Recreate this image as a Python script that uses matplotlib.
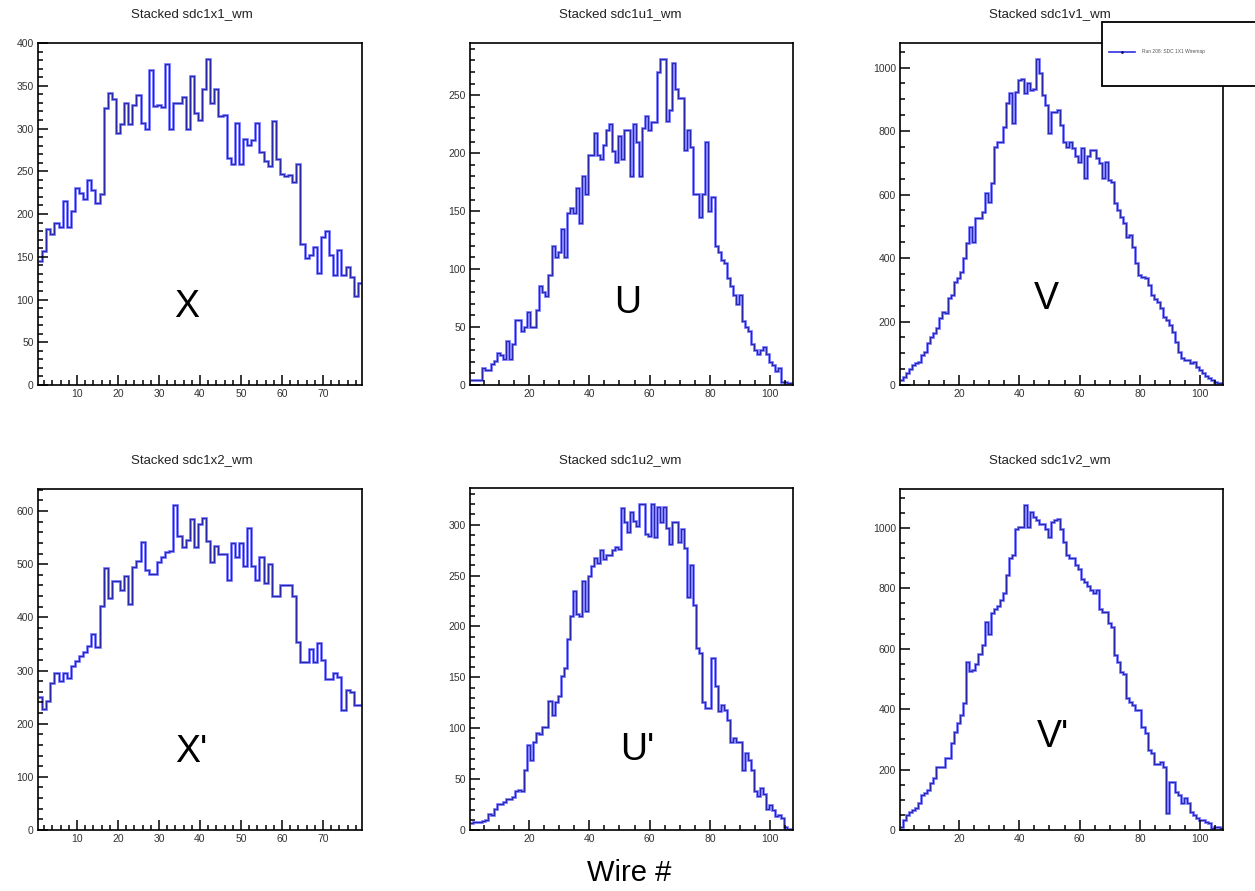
import numpy as np
import matplotlib.pyplot as plt
from matplotlib.patches import Rectangle
from matplotlib.lines import Line2D
from matplotlib.ticker import MultipleLocator

plt.rcParams['font.family'] = ['Liberation Sans', 'DejaVu Sans']

# wire-map counts per wire
x1 = [145, 157, 183, 177, 190, 185, 215, 185, 203, 230,
      225, 217, 240, 228, 213, 224, 324, 341, 335, 295,
      305, 330, 305, 328, 339, 306, 300, 369, 326, 328,
      325, 375, 299, 330, 330, 337, 299, 362, 318, 310,
      346, 381, 330, 346, 315, 316, 265, 258, 307, 259,
      288, 281, 287, 307, 273, 262, 256, 309, 264, 247,
      244, 246, 238, 258, 165, 148, 152, 161, 131, 173,
      180, 152, 129, 158, 129, 138, 126, 104, 119]
u1 = [4, 4, 4, 4, 15, 13, 13, 18, 21, 28,
      26, 22, 38, 22, 35, 56, 56, 47, 50, 63,
      50, 50, 65, 85, 80, 77, 95, 120, 110, 115,
      135, 110, 148, 153, 148, 170, 140, 180, 165, 198,
      198, 217, 198, 195, 207, 220, 225, 202, 192, 215,
      195, 220, 220, 180, 225, 210, 180, 222, 232, 220,
      227, 227, 270, 281, 281, 228, 237, 278, 255, 248,
      248, 203, 220, 205, 165, 165, 145, 165, 210, 150,
      162, 120, 115, 108, 105, 92, 85, 78, 70, 78,
      55, 50, 47, 35, 30, 27, 30, 33, 27, 20,
      17, 12, 15, 3, 3, 2, 2]
v1 = [16, 26, 37, 50, 63, 68, 74, 95, 105, 131,
      152, 163, 179, 210, 231, 226, 273, 284, 326, 336,
      357, 400, 446, 499, 452, 525, 525, 546, 604, 578,
      635, 751, 767, 767, 814, 888, 919, 825, 924, 961,
      963, 919, 951, 930, 932, 1026, 984, 914, 882, 793,
      861, 861, 866, 819, 767, 751, 764, 746, 720, 701,
      745, 651, 720, 740, 740, 714, 699, 651, 704, 646,
      638, 572, 551, 530, 509, 467, 472, 436, 383, 347,
      341, 336, 315, 284, 270, 263, 242, 215, 205, 189,
      168, 137, 105, 84, 79, 79, 70, 74, 56, 47,
      37, 28, 21, 16, 10, 6, 5]
x2 = [250, 227, 243, 277, 295, 281, 296, 286, 308, 318,
      327, 335, 346, 368, 344, 421, 492, 436, 469, 469,
      451, 477, 426, 495, 507, 542, 489, 481, 481, 504,
      514, 523, 525, 611, 554, 533, 545, 586, 533, 576,
      587, 543, 504, 535, 520, 519, 471, 540, 514, 540,
      496, 569, 496, 471, 514, 464, 501, 440, 440, 461,
      461, 461, 440, 354, 316, 316, 340, 316, 351, 320,
      285, 285, 296, 288, 226, 263, 260, 235, 235]
u2 = [7, 8, 8, 8, 9, 10, 16, 15, 21, 26,
      26, 28, 30, 30, 32, 38, 39, 38, 59, 84,
      69, 86, 95, 94, 101, 101, 127, 113, 126, 132,
      151, 159, 188, 210, 235, 212, 210, 245, 215, 250,
      259, 267, 262, 275, 266, 270, 270, 275, 278, 276,
      316, 303, 293, 312, 304, 299, 320, 320, 291, 289,
      320, 288, 317, 303, 317, 297, 281, 303, 303, 283,
      296, 277, 229, 260, 221, 179, 174, 126, 120, 120,
      169, 141, 117, 123, 118, 108, 86, 90, 86, 86,
      59, 76, 69, 59, 38, 33, 41, 35, 21, 25,
      20, 14, 15, 12, 3, 1, 1]
v2 = [11, 33, 50, 58, 66, 72, 88, 116, 121, 132,
      154, 171, 207, 209, 209, 237, 237, 287, 325, 353,
      380, 420, 557, 527, 530, 551, 584, 612, 689, 650,
      717, 733, 740, 761, 783, 843, 899, 910, 998, 1003,
      1003, 1075, 1003, 1053, 1036, 1025, 1014, 1014, 998, 970,
      1020, 1025, 1028, 998, 954, 910, 899, 899, 877, 865,
      832, 821, 807, 794, 783, 794, 733, 722, 722, 684,
      673, 579, 557, 524, 518, 436, 424, 413, 397, 397,
      342, 320, 265, 254, 220, 220, 226, 209, 55, 160,
      160, 127, 116, 88, 105, 88, 61, 50, 40, 33,
      33, 28, 22, 6, 11, 11, 6]

titles = ["Stacked sdc1x1_wm", "Stacked sdc1u1_wm", "Stacked sdc1v1_wm",
          "Stacked sdc1x2_wm", "Stacked sdc1u2_wm", "Stacked sdc1v2_wm"]
planes = ["X", "U", "V", "X'", "U'", "V'"]
legend_label = "Run 208: SDC 1X1 Wiremap"

W, H = 1255, 891
fig = plt.figure(figsize=(W / 100, H / 100), dpi=100)

# (data, pixel box, x major, x minor, y major, y minor, title pos, letter pos)
panels = [
    (x1, (38, 43, 362, 385), 10, 2, 50, 10, (192, 14), (187, 307)),
    (u1, (470, 43, 793, 385), 20, 5, 50, 10, (620, 14), (628, 303)),
    (v1, (900, 43, 1223, 385), 20, 5, 200, 50, (1050, 14), (1046, 299)),
    (x2, (38, 489, 362, 830), 10, 2, 100, 20, (192, 460), (191, 752)),
    (u2, (470, 488, 793, 830), 20, 5, 50, 10, (620, 460), (637, 750)),
    (v2, (900, 489, 1223, 830), 20, 5, 200, 50, (1050, 460), (1053, 737)),
]

for i, (vals, box, xmaj, xmin, ymaj, ymin, tpos, lpos) in enumerate(panels):
    l, t, r, b = box
    ax = fig.add_axes([l / W, 1 - b / H, (r - l) / W, (b - t) / H])
    vals = np.array(vals)
    edges = np.arange(len(vals) + 1) + 0.5
    ax.stairs(vals, edges, baseline=None, color="#6a6aff", lw=1.9)
    ax.stairs(vals, edges, baseline=None, color="#1c1c96", lw=0.6)
    ax.set_xlim(edges[0], edges[-1])
    ax.set_ylim(0, vals.max() * 1.05)
    ax.xaxis.set_major_locator(MultipleLocator(xmaj))
    ax.xaxis.set_minor_locator(MultipleLocator(xmin))
    ax.yaxis.set_major_locator(MultipleLocator(ymaj))
    ax.yaxis.set_minor_locator(MultipleLocator(ymin))
    ax.tick_params(which="both", direction="in", top=False, right=False,
                   labelsize=7.5, labelcolor="#333333", width=1.1)
    ax.tick_params(which="major", length=7.5, pad=3)
    ax.tick_params(which="minor", length=3.8)
    for sp in ax.spines.values():
        sp.set_linewidth(1.2)
    fig.text(tpos[0] / W, 1 - tpos[1] / H, titles[i], ha="center",
             va="center", fontsize=9.5, color="#222222")
    fig.text(lpos[0] / W, 1 - lpos[1] / H, planes[i], ha="center",
             va="center", fontsize=27)

fig.text(629 / W, 1 - 873 / H, "Wire #", ha="center", va="center", fontsize=21)

# legend box in the top-right corner, partly off the canvas
fig.add_artist(Rectangle((1102 / W, 1 - 86 / H), 160 / W, 64 / H,
                         transform=fig.transFigure, facecolor="white",
                         edgecolor="black", lw=1.3, zorder=5))
fig.add_artist(Line2D([1109 / W, 1135 / W], [1 - 52 / H, 1 - 52 / H],
                      transform=fig.transFigure, color="#3030e0", lw=1.2,
                      zorder=6))
fig.add_artist(Line2D([1122 / W], [1 - 52 / H], transform=fig.transFigure,
                      marker=".", ms=2, color="#10106a", zorder=6))
fig.text(1142 / W, 1 - 52 / H, legend_label, ha="left", va="center",
         fontsize=3.5, color="#555555", zorder=6)

fig.savefig("out.png", dpi=100)
